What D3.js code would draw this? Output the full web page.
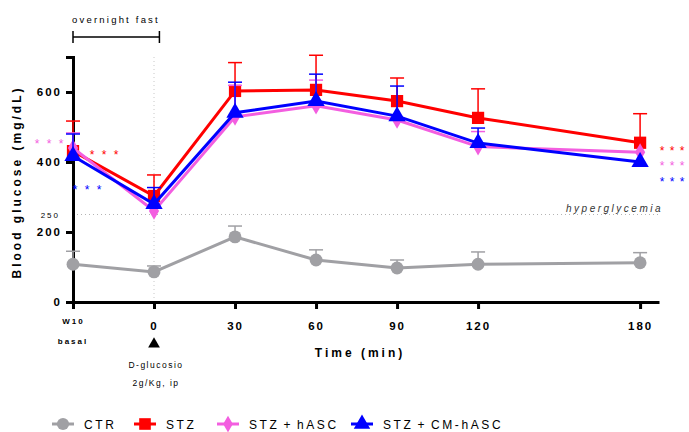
<!DOCTYPE html>
<html>
<head>
<meta charset="utf-8">
<script src="https://cdn.jsdelivr.net/npm/d3@7"></script>
<style>
  body { margin: 0; background: #fff; }
  svg { font-family: "Liberation Sans", Arial, sans-serif; }
  .axis path, .axis line { stroke: #000; }
</style>
</head>
<body>
<div id="chart"></div>
<script>
// time points (basal W10 drawn at -30)
var times = [-30, 0, 30, 60, 90, 120, 180];
var tickLabels = ["W10", "0", "30", "60", "90", "120", "180"];
var yTicks = [0, 200, 400, 600];

var ctrMean = [108, 86, 186, 120, 97, 108, 112];
var ctrErr  = [37, 17, 31, 29, 23, 35, 29];
var stzMean = [431, 303, 603, 606, 574, 526, 455];
var stzErr  = [86, 60, 81, 99, 66, 83, 83];
var hascMean = [440, 260, 529, 561, 520, 444, 428];
var hascErr  = [43, 0, 90, 73, 0, 43, 0];
var cmMean = [417, 280, 541, 574, 531, 454, 400];
var cmErr  = [63, 47, 87, 77, 86, 43, 0];

var seriesNames = ["CTR", "STZ", "STZ + hASC", "STZ + CM-hASC"];
var seriesColors = ["#a0a0a4", "#ff0000", "#f35ee0", "#0000ff"];
var seriesShapes = [d3.symbolCircle, d3.symbolSquare, d3.symbolDiamond, d3.symbolTriangle];
var seriesSizes = [130, 150, 90, 130];

var series = [
  { mean: ctrMean, err: ctrErr },
  { mean: stzMean, err: stzErr },
  { mean: hascMean, err: hascErr },
  { mean: cmMean, err: cmErr }
];

var width = 689, height = 432;
var svg = d3.select("#chart").append("svg")
  .attr("width", width).attr("height", height);

var x = d3.scaleLinear().domain([-30, 187]).range([73, 659]);
var y = d3.scaleLinear().domain([0, 700]).range([302, 57]);

// dotted guide at t=0
svg.append("line")
  .attr("x1", x(0)).attr("x2", x(0))
  .attr("y1", y(700)).attr("y2", y(0))
  .attr("stroke", "#c8c8c8").attr("stroke-dasharray", "1,3");

// hyperglycemia line
svg.append("line")
  .attr("x1", x(-30)).attr("x2", x(187))
  .attr("y1", y(250)).attr("y2", y(250))
  .attr("stroke", "#b4b4b4").attr("stroke-dasharray", "1,3");
svg.append("text")
  .attr("x", 663).attr("y", y(250) - 3)
  .attr("text-anchor", "end")
  .style("font-size", "10px").style("font-style", "italic")
  .style("letter-spacing", "2.5px").attr("fill", "#333")
  .text("hyperglycemia");
svg.append("text")
  .attr("x", 60).attr("y", y(250) + 3)
  .attr("text-anchor", "end")
  .style("font-size", "8px").style("letter-spacing", "2px")
  .text("250");

// overnight fast bracket
svg.append("line").attr("x1", x(-30)).attr("x2", x(2))
  .attr("y1", 37).attr("y2", 37).attr("stroke", "#000").attr("stroke-width", 1.5);
[-30, 2].forEach(function (t) {
  svg.append("line").attr("x1", x(t)).attr("x2", x(t))
    .attr("y1", 31).attr("y2", 43).attr("stroke", "#000").attr("stroke-width", 1.5);
});
svg.append("text").attr("x", 116).attr("y", 23)
  .attr("text-anchor", "middle")
  .style("font-size", "9.5px").style("letter-spacing", "2.2px")
  .text("overnight fast");

// axes
var yAxis = d3.axisLeft(y).tickValues(yTicks).tickSize(7).tickPadding(4);
var gy = svg.append("g").attr("class", "axis")
  .attr("transform", "translate(" + x(-30) + ",0)").call(yAxis);
gy.select(".domain").attr("stroke-width", 3);
gy.selectAll(".tick line").attr("stroke-width", 3);
gy.selectAll("text").style("font-size", "11.5px").style("font-weight", "bold")
  .style("letter-spacing", "2px").attr("fill", "#000");

var xAxis = d3.axisBottom(x).tickValues(times).tickSize(7).tickSizeOuter(0)
  .tickFormat(function (d, i) { return tickLabels[i]; });
var gx = svg.append("g").attr("class", "axis")
  .attr("transform", "translate(0," + y(0) + ")").call(xAxis);
gx.select(".domain").attr("stroke-width", 3);
gx.selectAll(".tick line").attr("stroke-width", 3);
gx.selectAll("text").attr("y", 20).attr("fill", "#000")
  .style("font-size", "11.5px").style("font-weight", "bold")
  .style("letter-spacing", "2px");
gx.selectAll(".tick").filter(function (d) { return d === -30; }).select("text")
  .style("font-size", "8px").attr("y", 16);

svg.append("text").attr("x", x(-30)).attr("y", 344)
  .attr("text-anchor", "middle").style("font-size", "8px")
  .style("font-weight", "bold").style("letter-spacing", "2px").text("basal");

// D-glucose injection arrow
svg.append("path")
  .attr("d", d3.symbol().type(d3.symbolTriangle).size(60)())
  .attr("transform", "translate(" + x(0) + ",344)");
svg.append("text").attr("x", x(0) + 2).attr("y", 368)
  .attr("text-anchor", "middle").style("font-size", "8.5px")
  .style("letter-spacing", "1.5px").text("D-glucosio");
svg.append("text").attr("x", x(0) + 2).attr("y", 386)
  .attr("text-anchor", "middle").style("font-size", "8.5px")
  .style("letter-spacing", "1.5px").text("2g/Kg, ip");

// axis titles
svg.append("text").attr("x", 360).attr("y", 357)
  .attr("text-anchor", "middle").style("font-size", "12px")
  .style("font-weight", "bold").style("letter-spacing", "3px")
  .text("Time (min)");
svg.append("text")
  .attr("transform", "translate(21,182) rotate(-90)")
  .attr("text-anchor", "middle").style("font-size", "12px")
  .style("font-weight", "bold").style("letter-spacing", "3px")
  .text("Blood glucose (mg/dL)");

// series
var line = d3.line().x(function (d) { return x(d.t); }).y(function (d) { return y(d.v); });
series.forEach(function (s, k) {
  var pts = times.map(function (t, i) { return { t: t, v: s.mean[i], e: s.err[i] }; });
  var g = svg.append("g").attr("fill", seriesColors[k]).attr("stroke", seriesColors[k]);
  pts.forEach(function (p) {
    if (p.e > 0) {
      g.append("line").attr("x1", x(p.t)).attr("x2", x(p.t))
        .attr("y1", y(p.v)).attr("y2", y(p.v + p.e)).attr("stroke-width", 1.5);
      g.append("line").attr("x1", x(p.t) - 7).attr("x2", x(p.t) + 7)
        .attr("y1", y(p.v + p.e)).attr("y2", y(p.v + p.e)).attr("stroke-width", 1.5);
    }
  });
  g.append("path").datum(pts).attr("d", line)
    .attr("fill", "none").attr("stroke-width", 3);
  g.selectAll("path.mk").data(pts).enter().append("path").attr("class", "mk")
    .attr("d", d3.symbol().type(seriesShapes[k]).size(seriesSizes[k]))
    .attr("stroke", "none")
    .attr("transform", function (d) { return "translate(" + x(d.t) + "," + y(d.v) + ")"; });
});

// significance stars (*** next to basal and 180 min)
var stars = [
  { x: 37, yv: 463, c: seriesColors[2], gap: 12 },
  { x: 92, yv: 431, c: seriesColors[1], gap: 12 },
  { x: 75, yv: 331, c: seriesColors[3], gap: 12 },
  { x: 662, yv: 443, c: seriesColors[1], gap: 10 },
  { x: 662, yv: 400, c: seriesColors[2], gap: 10 },
  { x: 662, yv: 354, c: seriesColors[3], gap: 10 }
];
stars.forEach(function (s) {
  [0, 1, 2].forEach(function (j) {
    svg.append("text").attr("x", s.x + j * s.gap).attr("y", y(s.yv) + 8)
      .attr("text-anchor", "middle").attr("fill", s.c)
      .style("font-size", "12px")
      .text("*");
  });
});

// legend
var legendX = [63, 145, 228, 362];
seriesNames.forEach(function (n, k) {
  var lg = svg.append("g").attr("transform", "translate(" + legendX[k] + ",424)");
  lg.append("line").attr("x1", -11).attr("x2", 11)
    .attr("stroke", seriesColors[k]).attr("stroke-width", 3);
  lg.append("path").attr("d", d3.symbol().type(seriesShapes[k]).size(seriesSizes[k] * 0.9)())
    .attr("fill", seriesColors[k]);
  lg.append("text").attr("x", 21).attr("y", 5)
    .style("font-size", "12px").style("letter-spacing", "2.6px")
    .style("word-spacing", "-2px")
    .text(n);
});
</script>
</body>
</html>
